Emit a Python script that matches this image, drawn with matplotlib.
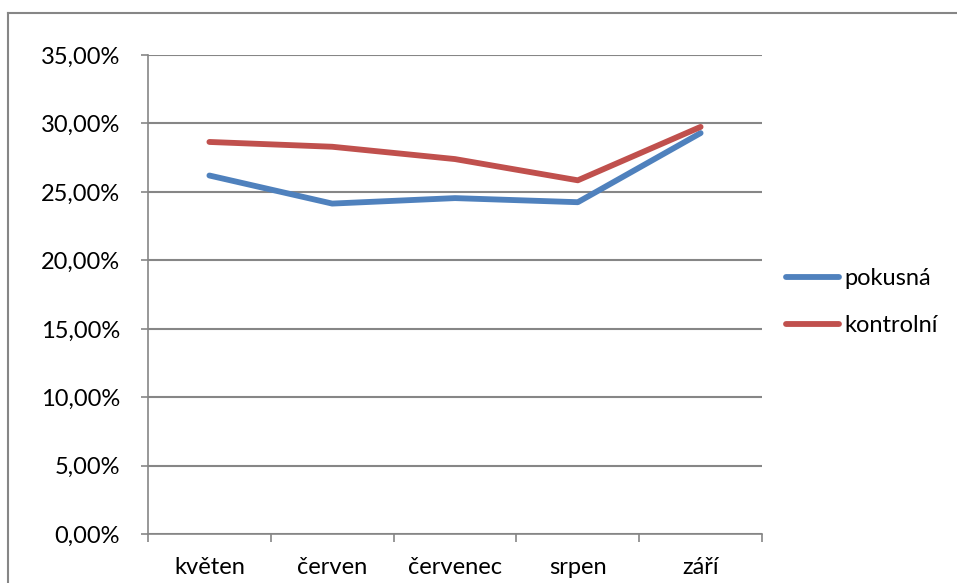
import matplotlib
matplotlib.use("Agg")
import matplotlib.pyplot as plt
from matplotlib.lines import Line2D
from matplotlib.ticker import FuncFormatter, FixedLocator

# ---------------- data ----------------
months = ["květen", "červen", "červenec", "srpen", "září"]
pokusna = [26.2, 24.15, 24.55, 24.25, 29.3]
kontrolni = [28.65, 28.3, 27.4, 25.85, 29.75]
series_names = ["pokusná", "kontrolní"]

BLUE = "#4F81BD"
RED = "#C0504D"
GRID = "#868686"
FS = 17

plt.rcParams['font.family'] = ['Lato', 'DejaVu Sans']

fig = plt.figure(figsize=(9.57, 5.83), dpi=100)
ax = fig.add_axes([148/957, 1 - 534.3/583, 614/957, (534.3 - 55)/583])

x = list(range(len(months)))
ax.plot(x, pokusna, color=BLUE, lw=4.2, solid_capstyle="round", solid_joinstyle="round", label=series_names[0])
ax.plot(x, kontrolni, color=RED, lw=4.2, solid_capstyle="round", solid_joinstyle="round", label=series_names[1])

ax.set_xlim(-0.5, len(months) - 0.5)
ax.set_ylim(0, 35)
ax.set_yticks(range(0, 36, 5))
ax.yaxis.set_major_formatter(FuncFormatter(lambda v, _: f"{v:.2f}%".replace(".", ",")))
ax.yaxis.grid(True, color=GRID, lw=1.5)
ax.set_axisbelow(True)

ax.set_xticks(x)
ax.set_xticklabels(months)
ax.xaxis.set_minor_locator(FixedLocator([i - 0.5 for i in range(len(months) + 1)]))
ax.tick_params(axis="x", which="major", length=0, pad=16, labelsize=FS)
ax.tick_params(axis="x", which="minor", length=6, width=1.2, color=GRID, direction="out")
ax.tick_params(axis="y", length=5, width=1.2, color=GRID, pad=15, labelsize=FS)

for side in ("top", "right"):
    ax.spines[side].set_visible(False)
for side in ("left", "bottom"):
    ax.spines[side].set_color(GRID)
    ax.spines[side].set_linewidth(1.2)

ax.legend(loc="center left", bbox_to_anchor=(1.005, 0.485), frameon=False,
          fontsize=FS, handlelength=2.25, handletextpad=0.2, labelspacing=1.1)

# chart frame
fig.add_artist(Line2D([8/957, 1], [1 - 13/583] * 2, color=GRID, lw=1.5, transform=fig.transFigure))
fig.add_artist(Line2D([8/957] * 2, [0, 1 - 13/583], color=GRID, lw=1.5, transform=fig.transFigure))

fig.savefig("out.png", dpi=100)
